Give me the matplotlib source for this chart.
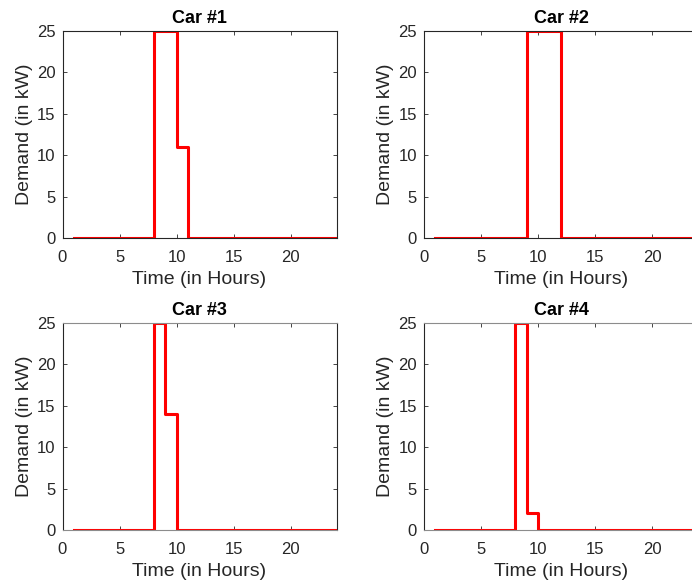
import matplotlib
matplotlib.use("Agg")
import matplotlib.pyplot as plt
import numpy as np

plt.rcParams['font.family'] = ['Liberation Sans', 'DejaVu Sans']

hours = list(range(1, 25))
titles = ["Car #1", "Car #2", "Car #3", "Car #4"]

def profile(vals):
    y = [0.0] * 24
    for h, v in vals.items():
        y[h - 1] = v
    return y

car1 = profile({8: 25, 9: 25, 10: 11})
car2 = profile({9: 25, 10: 25, 11: 25})
car3 = profile({8: 25, 9: 14})
car4 = profile({8: 25, 9: 2})
series = [car1, car2, car3, car4]

fig = plt.figure(figsize=(6.92, 5.88), dpi=100)
W, H = 692, 588
lefts = [62.5, 424]
tops = [31, 323]
aw, ah = 274, 207

axcol = '#262626'
for i, (t, y) in enumerate(zip(titles, series)):
    r, c = divmod(i, 2)
    l = lefts[c]
    tp = tops[r]
    ax = fig.add_axes([l / W, 1 - (tp + ah) / H, aw / W, ah / H])
    ax.step(hours, y, where='post', color='#ff0000', linewidth=2.2)
    ax.set_xlim(0, 24)
    ax.set_ylim(0, 25)
    ax.set_xticks([0, 5, 10, 15, 20])
    ax.set_yticks([0, 5, 10, 15, 20, 25])
    ax.tick_params(direction='in', top=True, right=True, length=3, width=0.6,
                   colors=axcol, labelsize=12, labelcolor='#262626')
    ax.tick_params(axis='x', pad=9)
    ax.tick_params(axis='y', pad=5)
    for s in ax.spines.values():
        s.set_color(axcol)
        s.set_linewidth(0.8)
    if r == 1:
        ax.spines['top'].set_color('#8c8c8c')
        ax.spines['bottom'].set_color('#8c8c8c')
    ax.set_title(t, fontsize=13, fontweight='bold', pad=6)
    ax.set_xlabel("Time (in Hours)", fontsize=14, color='#262626', labelpad=4)
    ax.set_ylabel("Demand (in kW)", fontsize=14, color='#262626', labelpad=3)

fig.savefig("out.png", dpi=100)
